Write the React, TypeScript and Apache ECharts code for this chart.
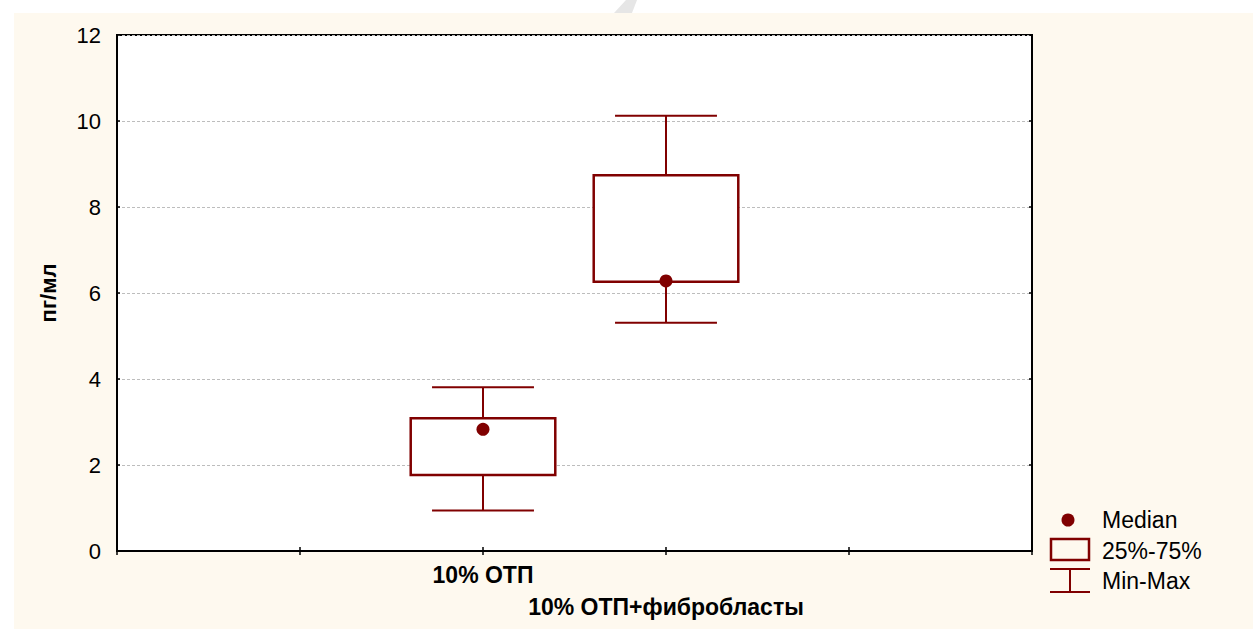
import React, { useEffect, useRef } from "react";
import * as echarts from "echarts";

const categories = ["", "", "10% ОТП", "10% ОТП+фибробласты", "", ""];
const groupIndex = [2, 3];
const minValues = [0.94, 5.31];
const q1Values = [1.77, 6.26];
const medianValues = [2.83, 6.28];
const q3Values = [3.09, 8.74];
const maxValues = [3.81, 10.12];
const yTicks = { min: 0, max: 12, interval: 2 };
const legendLabels = ["Median", "25%-75%", "Min-Max"];
const yAxisName = "пг/мл";

const DARK_RED = "#800000";
const FONT = "'Liberation Sans', Arial, sans-serif";

export default function App() {
  const ref = useRef<HTMLDivElement>(null);
  useEffect(() => {
    if (!ref.current) return;
    const chart = echarts.init(ref.current, undefined, { renderer: "svg" });
    const boxData = groupIndex.map((c, i) => [
      c,
      minValues[i],
      q1Values[i],
      medianValues[i],
      q3Values[i],
      maxValues[i],
    ]);
    const renderItem = (params: any, api: any) => {
      const x = api.value(0);
      const pMin = api.coord([x, api.value(1)]);
      const pQ1 = api.coord([x, api.value(2)]);
      const pMed = api.coord([x, api.value(3)]);
      const pQ3 = api.coord([x, api.value(4)]);
      const pMax = api.coord([x, api.value(5)]);
      const unit = api.size([1, 0])[0];
      const boxW = unit * 0.79;
      const capW = unit * 0.557;
      const cx = pMed[0];
      const lineStyle = { stroke: DARK_RED, lineWidth: 2, fill: null };
      return {
        type: "group",
        children: [
          { type: "line", shape: { x1: cx, y1: pQ3[1], x2: cx, y2: pMax[1] }, style: lineStyle },
          { type: "line", shape: { x1: cx, y1: pQ1[1], x2: cx, y2: pMin[1] }, style: lineStyle },
          { type: "line", shape: { x1: cx - capW / 2, y1: pMax[1], x2: cx + capW / 2, y2: pMax[1] }, style: lineStyle },
          { type: "line", shape: { x1: cx - capW / 2, y1: pMin[1], x2: cx + capW / 2, y2: pMin[1] }, style: lineStyle },
          {
            type: "rect",
            shape: { x: cx - boxW / 2, y: pQ3[1], width: boxW, height: pQ1[1] - pQ3[1] },
            style: { stroke: DARK_RED, lineWidth: 2.5, fill: "#ffffff" },
          },
          { type: "circle", shape: { cx: cx, cy: pMed[1], r: 6.5 }, style: { fill: DARK_RED } },
        ],
      };
    };

    const axisCommon = {
      type: "category" as const,
      data: categories,
      boundaryGap: false,
      axisLine: { show: true, lineStyle: { color: "#000", width: 2 } },
      axisTick: { show: true, inside: true, length: 4, interval: 0, lineStyle: { color: "#000", width: 1.5 } },
      splitLine: { show: false },
    };
    const yCommon = {
      type: "value" as const,
      min: yTicks.min,
      max: yTicks.max,
      interval: yTicks.interval,
      axisLine: { show: true, lineStyle: { color: "#000", width: 2 } },
      axisTick: { show: true, inside: true, length: 3, lineStyle: { color: "#000", width: 1.5 } },
    };

    const legendX = 1050;
    const legendFont = "23px " + FONT;
    chart.setOption({
      animation: false,
      backgroundColor: "#ffffff",
      textStyle: { fontFamily: FONT },
      grid: {
        left: 117,
        top: 35,
        width: 915,
        height: 516,
        show: true,
        backgroundColor: "#ffffff",
        borderColor: "#000",
        borderWidth: 2,
        containLabel: false,
      },
      xAxis: [
        {
          ...axisCommon,
          position: "bottom",
          axisLabel: {
            show: true,
            interval: 0,
            color: "#000",
            fontFamily: FONT,
            fontSize: 23,
            fontWeight: "bold",
            lineHeight: 32,
            margin: 8,
            formatter: (v: string, i: number) => (i === 3 ? "\n" + v : v),
          },
        },
        { ...axisCommon, position: "top", axisLabel: { show: false } },
      ],
      yAxis: [
        {
          ...yCommon,
          position: "left",
          name: yAxisName,
          nameLocation: "middle",
          nameGap: 58,
          nameRotate: 90,
          nameTextStyle: { color: "#000", fontFamily: FONT, fontSize: 22, fontWeight: "bold" },
          axisLabel: { color: "#000", fontFamily: FONT, fontSize: 22, margin: 16 },
          splitLine: { show: true, lineStyle: { color: "#bdbdbd", type: [3, 2], width: 1 } },
        },
        {
          ...yCommon,
          position: "right",
          axisLabel: { show: false },
          splitLine: { show: false },
        },
      ],
      series: [
        {
          name: "box",
          type: "custom",
          renderItem,
          data: boxData,
          encode: { x: 0, y: [1, 2, 3, 4, 5] },
          z: 10,
        },
      ],
      graphic: [
        {
          type: "rect",
          z: -10,
          silent: true,
          shape: { x: 14, y: 13, width: 1253 - 14, height: 629 - 13 },
          style: { fill: "#fef9ef" },
        },
        {
          type: "polygon",
          z: -5,
          silent: true,
          shape: { points: [[626, 0], [637, 0], [632, 13], [614, 13]] },
          style: { fill: "#e6e6e6" },
        },
        { type: "circle", shape: { cx: legendX + 18, cy: 520, r: 6.5 }, style: { fill: DARK_RED } },
        {
          type: "text",
          x: 1102,
          y: 520,
          style: { text: legendLabels[0], fill: "#000", font: legendFont, verticalAlign: "middle" },
        },
        {
          type: "rect",
          shape: { x: legendX + 1, y: 539, width: 38, height: 21 },
          style: { stroke: DARK_RED, lineWidth: 2.5, fill: "transparent" },
        },
        {
          type: "text",
          x: 1102,
          y: 551,
          style: { text: legendLabels[1], fill: "#000", font: legendFont, verticalAlign: "middle" },
        },
        { type: "line", shape: { x1: legendX, y1: 569, x2: legendX + 40, y2: 569 }, style: { stroke: DARK_RED, lineWidth: 2 } },
        { type: "line", shape: { x1: legendX + 20, y1: 569, x2: legendX + 20, y2: 592 }, style: { stroke: DARK_RED, lineWidth: 2 } },
        { type: "line", shape: { x1: legendX, y1: 592, x2: legendX + 40, y2: 592 }, style: { stroke: DARK_RED, lineWidth: 2 } },
        {
          type: "text",
          x: 1102,
          y: 581,
          style: { text: legendLabels[2], fill: "#000", font: legendFont, verticalAlign: "middle" },
        },
      ],
    });
    return () => chart.dispose();
  }, []);
  return (
    <div
      ref={ref}
      style={{ position: "absolute", left: 0, top: 0, width: 1253, height: 629 }}
    />
  );
}
